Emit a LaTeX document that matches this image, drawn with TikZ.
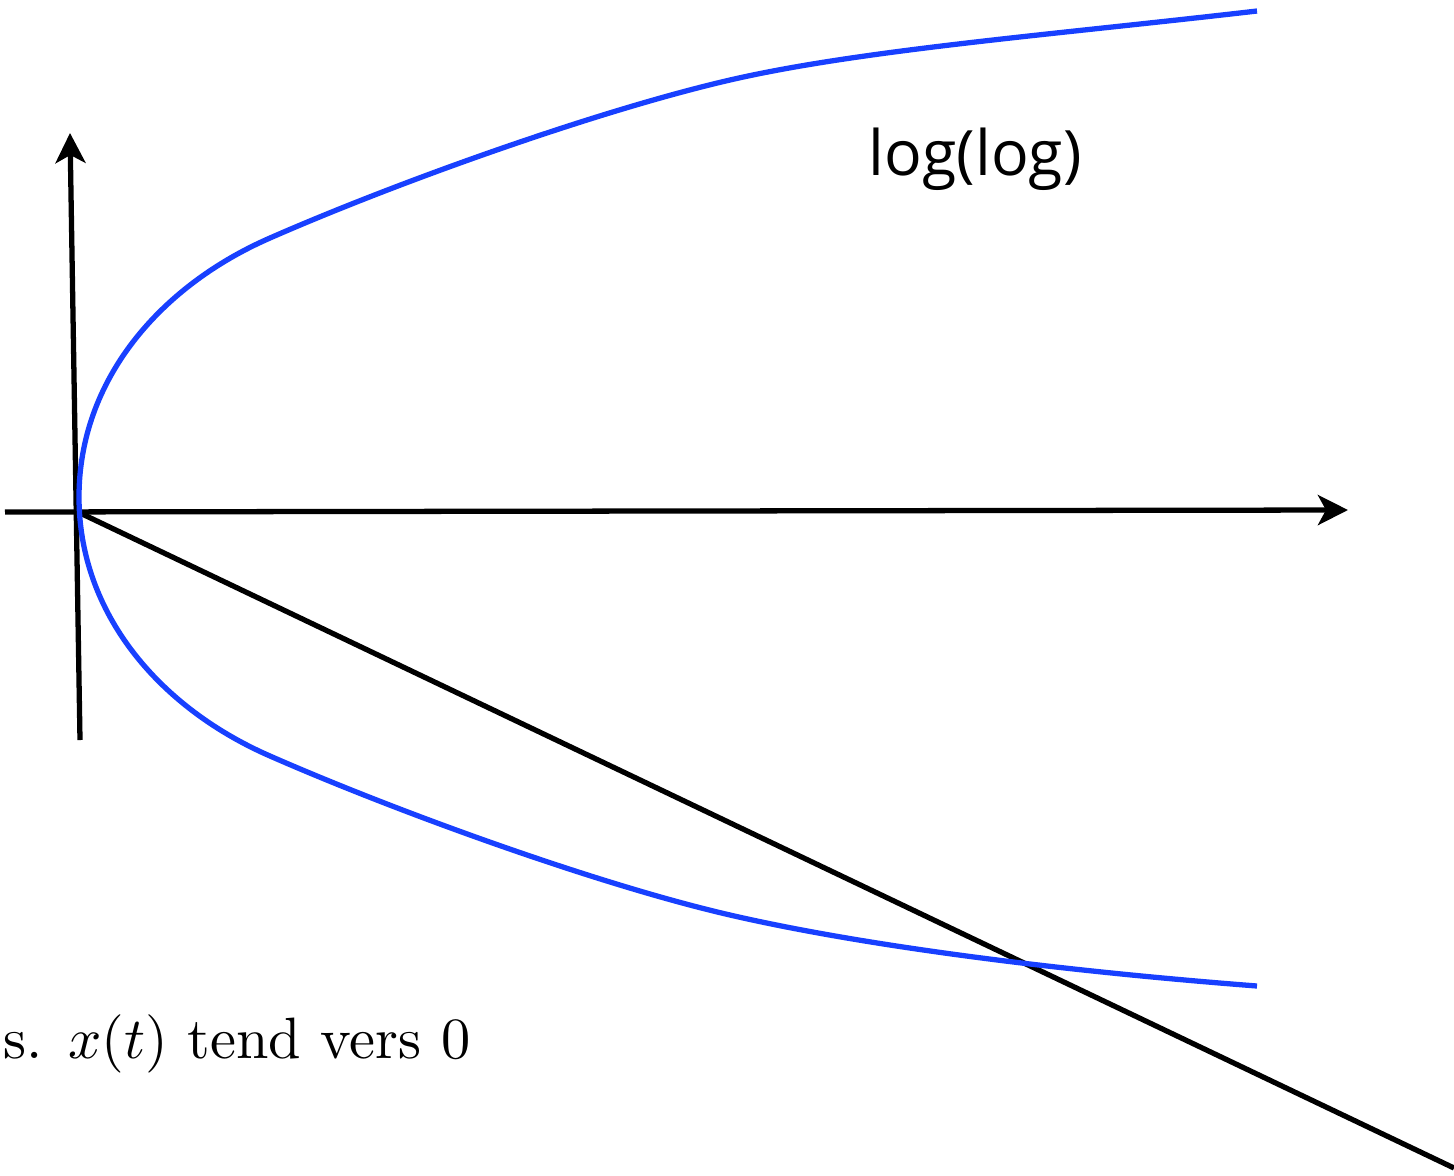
\documentclass[tikz,border=0pt]{standalone}
\usepackage{fontspec}
\newfontfamily\labelfont{Open Sans}
\usetikzlibrary{arrows.meta}
\definecolor{curveblue}{RGB}{24,64,255}
\begin{document}
\begin{tikzpicture}[x=0.01cm,y=-0.01cm,
  axis/.style={line width=1.5pt,black,-{Stealth[length=0.30cm,width=0.30cm,inset=0.08cm]}},
  plainline/.style={line width=1.5pt,black},
  curve/.style={line width=1.5pt,curveblue},
  lbl/.style={inner sep=0pt,anchor=base west}]
\useasboundingbox (0,0) rectangle (1454,1175);
\coordinate (o) at (78,512);
\coordinate (hs) at (5,512);
\coordinate (he) at (1348,510);
\coordinate (vs) at (80,740);
\coordinate (ve) at (70,133);
\coordinate (de) at (1454,1168);
\coordinate (vx) at (79,497);
\coordinate (u1) at (270,238);
\coordinate (u2) at (730,80);
\coordinate (u3) at (1257,11);
\coordinate (l1) at (270,756);
\coordinate (l2) at (730,915);
\coordinate (l3) at (1257,986);
\draw[axis] (hs) -- (he);
\draw[axis] (vs) -- (ve);
\draw[plainline] (o) -- (de);
\draw[curve] (u3) .. controls (1050,35) and (860,50) .. (u2)
  .. controls (600,110) and (400,181) .. (u1)
  .. controls (160,286) and (79,380) .. (vx)
  .. controls (79,614) and (160,708) .. (l1)
  .. controls (400,813) and (600,885) .. (l2)
  .. controls (860,945) and (1050,970) .. (l3);
\node[lbl,font=\labelfont\fontsize{17.8pt}{20pt}\selectfont] (t1) at (868,175) {log(log)};
\node[lbl,scale=1.66,font=\fontsize{10pt}{12pt}\selectfont] (t2) at (2,1058) {s. $x(t)$ tend vers 0};
\end{tikzpicture}
\end{document}
